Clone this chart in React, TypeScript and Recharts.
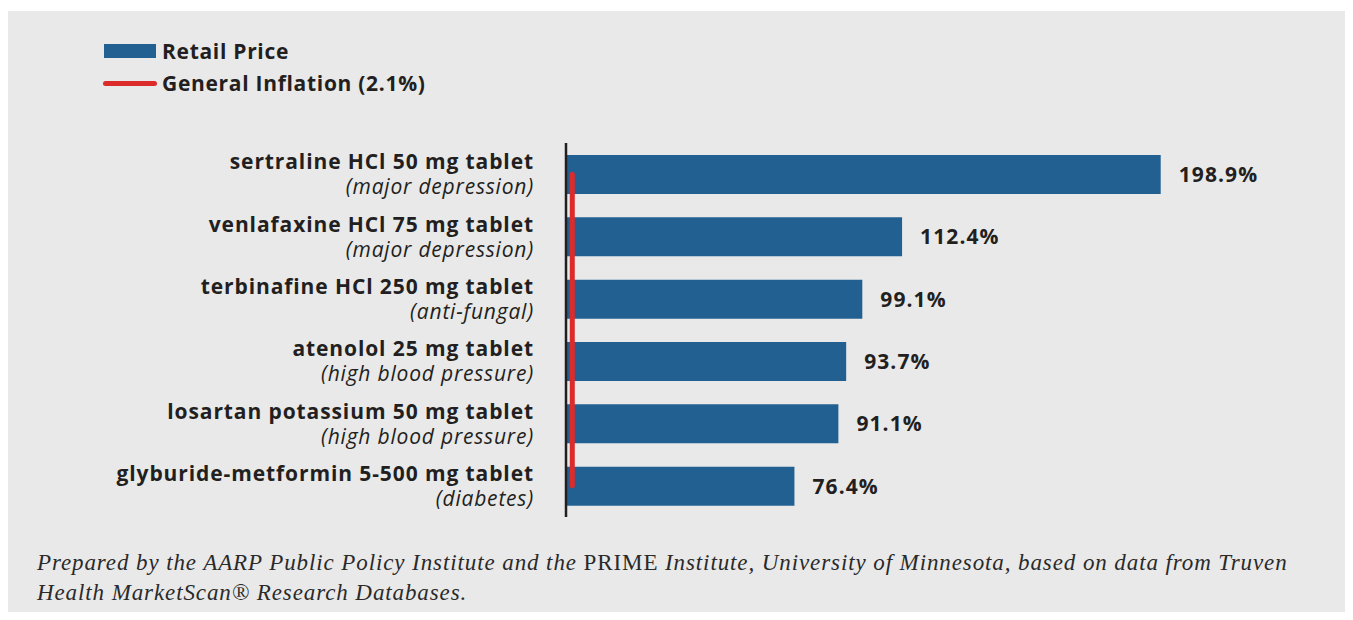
import React from 'react';
import { ComposedChart, Bar, Line, XAxis, YAxis, LabelList } from 'recharts';

// drug names, conditions and % retail price change
const drugs = [
  'sertraline HCl 50 mg tablet',
  'venlafaxine HCl 75 mg tablet',
  'terbinafine HCl 250 mg tablet',
  'atenolol 25 mg tablet',
  'losartan potassium 50 mg tablet',
  'glyburide-metformin 5-500 mg tablet',
];
const conditions = [
  '(major depression)',
  '(major depression)',
  '(anti-fungal)',
  '(high blood pressure)',
  '(high blood pressure)',
  '(diabetes)',
];
const retailPrice = [198.9, 112.4, 99.1, 93.7, 91.1, 76.4];
const generalInflation = 2.1;

const data = drugs.map((name, i) => ({
  name,
  condition: conditions[i],
  retail: retailPrice[i],
  inflation: generalInflation,
}));

const SANS = '"Open Sans", Lato, sans-serif';
const BLUE = '#236092';
const RED = '#dc2b2b';
const INK = '#231f20';
const FS = 21;
const LS = 0.9;

// two-line tick: bold drug name over italic condition
function DrugTick(props: any) {
  const { x, y, payload } = props;
  const row = data[payload.index] || data.find((d) => d.name === payload.value);
  return (
    <text x={x} y={y - 5} textAnchor="end" fontFamily={SANS} fontSize={FS} fill={INK}>
      <tspan x={x} fontWeight={700} letterSpacing={LS}>
        {payload.value}
      </tspan>
      <tspan x={x} dy={25} fontStyle="italic" fontWeight={400} letterSpacing={0.8}>
        {row ? row.condition : ''}
      </tspan>
    </text>
  );
}

function LegendBox() {
  const row = { display: 'flex', alignItems: 'center', height: 32 } as React.CSSProperties;
  const txt = { fontFamily: SANS, fontWeight: 700, fontSize: FS, letterSpacing: 0.7, color: INK, marginLeft: 6 } as React.CSSProperties;
  return (
    <div>
      <div style={row}>
        <div style={{ width: 52, height: 14, background: BLUE }} />
        <span style={txt}>Retail Price</span>
      </div>
      <div style={row}>
        <div style={{ width: 54, height: 5, borderRadius: 3, background: RED, marginLeft: -1 }} />
        <span style={{ ...txt, marginLeft: 5 }}>General Inflation (2.1%)</span>
      </div>
    </div>
  );
}

export default function App() {
  return (
    <div style={{ position: 'relative', margin: -8, width: 1353, height: 620, background: '#fff', overflow: 'hidden' }}>
      <div style={{ position: 'absolute', left: 7, top: 11, right: 0, bottom: 0, background: '#e9e9e9' }} />
      <div style={{ position: 'absolute', left: 104, top: 35 }}>
        <LegendBox />
      </div>
      <div style={{ position: 'absolute', left: 0, top: 0 }}>
        <ComposedChart
          layout="vertical"
          width={1353}
          height={620}
          data={data}
          margin={{ top: 143, right: 39.5, bottom: 103, left: 0 }}
        >
          <XAxis type="number" domain={[0, 250]} hide />
          <YAxis
            type="category"
            dataKey="name"
            width={566}
            tickLine={false}
            tickSize={0}
            tickMargin={32}
            axisLine={{ stroke: INK, strokeWidth: 2.5 }}
            tick={<DrugTick />}
            interval={0}
          />
          <Bar dataKey="retail" fill={BLUE} barSize={39} isAnimationActive={false}>
            <LabelList
              dataKey="retail"
              position="right"
              offset={18}
              formatter={(v: any) => `${Number(v).toFixed(1)}%`}
              style={{ fontFamily: SANS, fontWeight: 700, fontSize: FS, letterSpacing: 1.1, fill: INK }}
            />
          </Bar>
          <Line
            dataKey="inflation"
            stroke={RED}
            strokeWidth={5}
            strokeLinecap="round"
            dot={false}
            activeDot={false}
            isAnimationActive={false}
          />
        </ComposedChart>
      </div>
      <div
        style={{
          position: 'absolute',
          left: 37,
          top: 548,
          width: 1310,
          fontFamily: '"Liberation Serif", "DejaVu Serif", serif',
          fontStyle: 'italic',
          fontSize: 23,
          letterSpacing: 0.9,
          lineHeight: '30px',
          color: '#2a2a2a',
          whiteSpace: 'nowrap',
        }}
      >
        Prepared by the AARP Public Policy Institute and the <span style={{ fontStyle: 'normal' }}>PRIME</span> Institute,
        University of Minnesota, based on data from Truven
        <br />
        Health MarketScan® Research Databases.
      </div>
    </div>
  );
}
